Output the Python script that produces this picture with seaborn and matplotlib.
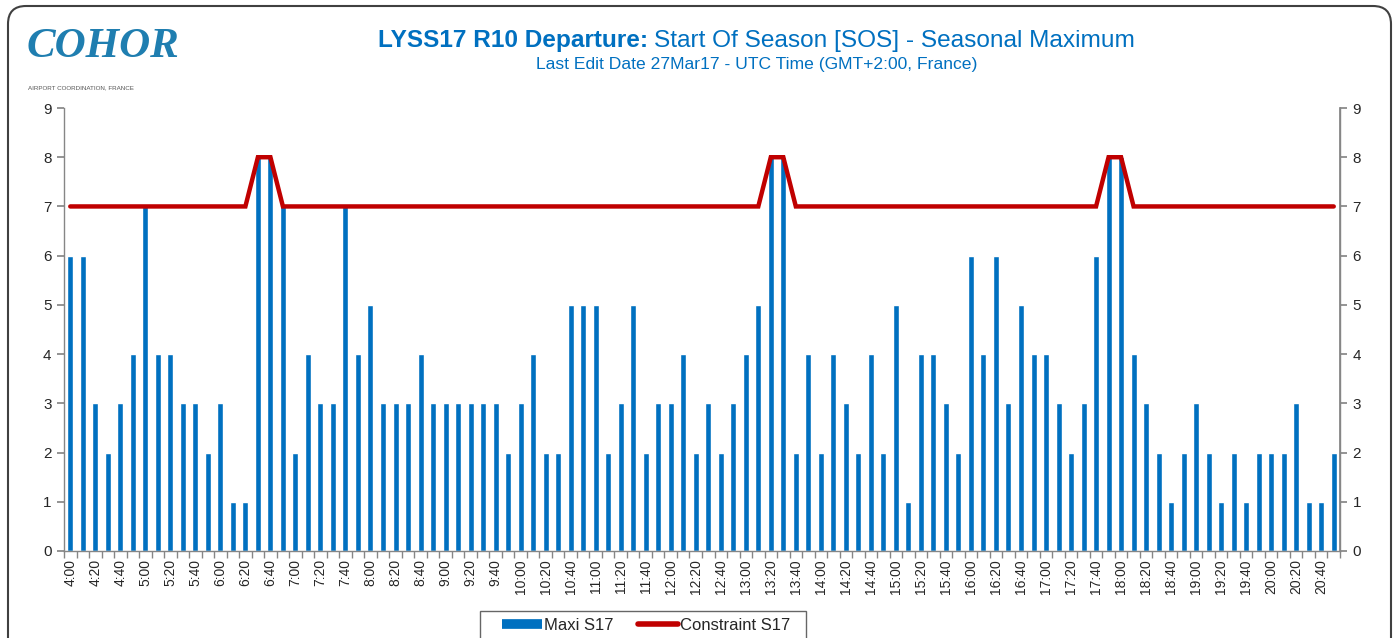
import matplotlib
matplotlib.use('Agg')
import matplotlib.pyplot as plt
from matplotlib.lines import Line2D
from matplotlib.patches import FancyBboxPatch, Rectangle
import numpy as np
import pandas as pd
import seaborn as sns

# 10-minute slots 4:00 .. 20:50
slots = [f'{h}:{m:02d}' for h in range(4, 21) for m in range(0, 60, 10)]

maxi_s17 = [
    6, 6, 3, 2, 3, 4,   # 4h
    7, 4, 4, 3, 3, 2,   # 5h
    3, 1, 1, 8, 8, 7,   # 6h
    2, 4, 3, 3, 7, 4,   # 7h
    5, 3, 3, 3, 4, 3,   # 8h
    3, 3, 3, 3, 3, 2,   # 9h
    3, 4, 2, 2, 5, 5,   # 10h
    5, 2, 3, 5, 2, 3,   # 11h
    3, 4, 2, 3, 2, 3,   # 12h
    4, 5, 8, 8, 2, 4,   # 13h
    2, 4, 3, 2, 4, 2,   # 14h
    5, 1, 4, 4, 3, 2,   # 15h
    6, 4, 6, 3, 5, 4,   # 16h
    4, 3, 2, 3, 6, 8,   # 17h
    8, 4, 3, 2, 1, 2,   # 18h
    3, 2, 1, 2, 1, 2,   # 19h
    2, 2, 3, 1, 1, 2,   # 20h
]

constraint_s17 = [
    7, 7, 7, 7, 7, 7,
    7, 7, 7, 7, 7, 7,
    7, 7, 7, 8, 8, 7,
    7, 7, 7, 7, 7, 7,
    7, 7, 7, 7, 7, 7,
    7, 7, 7, 7, 7, 7,
    7, 7, 7, 7, 7, 7,
    7, 7, 7, 7, 7, 7,
    7, 7, 7, 7, 7, 7,
    7, 7, 8, 8, 7, 7,
    7, 7, 7, 7, 7, 7,
    7, 7, 7, 7, 7, 7,
    7, 7, 7, 7, 7, 7,
    7, 7, 7, 7, 7, 8,
    8, 7, 7, 7, 7, 7,
    7, 7, 7, 7, 7, 7,
    7, 7, 7, 7, 7, 7,
]

y_ticks = list(range(0, 10))

BLUE = '#0070C0'
RED = '#C00000'
GREY = '#868686'

sns.set_theme(style='white')
plt.rcParams['font.family'] = ['Liberation Sans', 'DejaVu Sans']

df = pd.DataFrame({'pos': np.arange(len(slots)), 'slot': slots,
                   'maxi': maxi_s17, 'constraint': constraint_s17})

W, H = 1397, 638
fig = plt.figure(figsize=(W / 100, H / 100), dpi=100)
ax = fig.add_axes([64 / W, 1 - 551 / H, (1340 - 64) / W, (551 - 108) / H])

sns.barplot(data=df, x='pos', y='maxi', native_scale=True, width=0.48,
            color=BLUE, saturation=1, ax=ax, zorder=2)
sns.lineplot(data=df, x='pos', y='constraint', color=RED, lw=3.2,
             ax=ax, zorder=3, solid_capstyle='round', solid_joinstyle='miter')

ax.set_xlim(-0.5, len(slots) - 0.5)
ax.set_ylim(0, 9)
ax.set_yticks(y_ticks)
ax.set_xticks(df['pos'][::2])
ax.set_xticklabels(slots[::2], rotation=90, fontsize=10)
ax.set_xticks(np.arange(-0.5, len(slots), 1), minor=True)
ax.tick_params(axis='x', which='major', length=0, pad=6)
ax.tick_params(axis='x', which='minor', length=5, color=GREY, width=1, bottom=True)
ax.tick_params(axis='y', left=True, length=5, color=GREY, labelsize=11, pad=4)
ax.set_xlabel('')
ax.set_ylabel('')
for s in ['left', 'bottom', 'right']:
    ax.spines[s].set_color(GREY)
    ax.spines[s].set_linewidth(1)
ax.spines['top'].set_visible(False)

ax2 = ax.twinx()
ax2.set_ylim(0, 9)
ax2.set_yticks(y_ticks)
ax2.tick_params(axis='y', right=True, length=5, color=GREY, labelsize=11, pad=4)
for s in ax2.spines.values():
    s.set_visible(False)
ax2.spines['right'].set_visible(True)
ax2.spines['right'].set_color(GREY)

# titles
fig.text(648 / W, 1 - 41 / H, 'LYSS17 R10 Departure:', ha='right', va='center',
         fontsize=17.6, fontweight='bold', color=BLUE)
fig.text(654 / W, 1 - 41 / H, 'Start Of Season [SOS] - Seasonal Maximum', ha='left',
         va='center', fontsize=17.6, color=BLUE)
fig.text(757 / W, 1 - 65 / H, 'Last Edit Date 27Mar17 - UTC Time (GMT+2:00, France)',
         ha='center', va='center', fontsize=12.6, color=BLUE)

# logo
fig.text(27 / W, 1 - 47 / H, 'COHOR', ha='left', va='center', fontsize=31,
         fontstyle='italic', fontweight='bold', family='Liberation Serif', color='#1F7EB0')
fig.text(28 / W, 1 - 88 / H, 'AIRPORT COORDINATION, FRANCE', ha='left', va='center',
         fontsize=4.5, color='#555555')

# legend (frame drawn separately, it runs off the bottom edge)
handles = [Line2D([], [], color=BLUE, lw=7, solid_capstyle='butt'),
           Line2D([], [], color=RED, lw=4, solid_capstyle='round')]
fig.legend(handles, ['Maxi S17', 'Constraint S17'], loc='center',
           bbox_to_anchor=(646 / W, 1 - 625 / H), ncol=2, fontsize=12,
           frameon=False, handlelength=2.4, handletextpad=0.1, columnspacing=1.5)
fig.patches.append(Rectangle((480, -20), 326, H - 611 + 20, transform=None,
                             fill=False, edgecolor='#666666', lw=1))

# outer rounded border
border = FancyBboxPatch((8, -40), W - 14, H + 34, boxstyle='round,pad=0,rounding_size=18',
                        transform=None, fill=False, edgecolor='#404040', lw=1.5)
fig.patches.append(border)

fig.savefig('out.png', dpi=100)
plt.close(fig)
